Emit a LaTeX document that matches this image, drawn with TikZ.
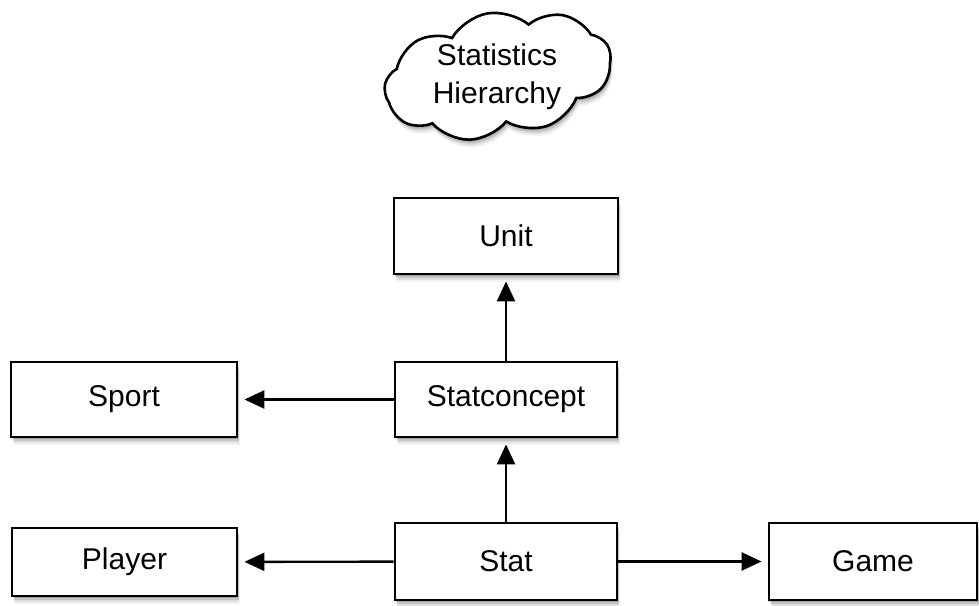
\documentclass[tikz,border=0pt]{standalone}
\usepackage{fontspec}
\setmainfont{Liberation Sans}
\usetikzlibrary{shapes.symbols,shadows,arrows.meta}
\begin{document}
\begin{tikzpicture}[x=1pt,y=-1pt,
  shad/.style={
    drop shadow={shadow xshift=1pt, shadow yshift=-2pt, fill=black, opacity=0.18},
    drop shadow={shadow xshift=1.5pt, shadow yshift=-4pt, fill=black, opacity=0.12},
    drop shadow={shadow xshift=2pt, shadow yshift=-6pt, fill=black, opacity=0.08},
    drop shadow={shadow xshift=2.5pt, shadow yshift=-8pt, fill=black, opacity=0.05}},
  box/.style={draw=black, line width=2.8pt, fill=white, rectangle, inner sep=0pt,
    font=\fontsize{30}{37}\selectfont, shad},
  conn/.style={line width=2.4pt, -{Triangle[length=20pt,width=18pt]}, shorten >=6pt},
  cloudbox/.style={cloud, cloud puffs=9, cloud puff arc=100, cloud ignores aspect,
    draw=black, line width=2.6pt, fill=white, inner sep=0pt, shad},
  lbl/.style={align=center, inner sep=0pt, font=\fontsize{30}{38}\selectfont}]
\useasboundingbox (0,0) rectangle (979,605);
\node[cloudbox, minimum width=229pt, minimum height=125pt, rotate=10] (cl) at (498,75) {};
\node[lbl] (cltext) at (497,77) {Statistics\\Hierarchy};
\node[box, minimum width=224pt, minimum height=76pt] (unit) at (506,236) {Unit};
\node[box, minimum width=222pt, minimum height=75pt] (sc) at (506,399.5) {Statconcept};
\node[box, minimum width=226pt, minimum height=75pt] (sport) at (124,399.5) {Sport};
\node[box, minimum width=222pt, minimum height=77pt] (stat) at (506,561.5) {Stat};
\node[box, minimum width=225pt, minimum height=68pt] (player) at (124.5,562) {Player};
\node[box, minimum width=208pt, minimum height=77pt] (game) at (873,561.5) {Game};
\draw[conn] (sc) -- (unit);
\draw[conn] (sc) -- (sport);
\draw[conn] (stat) -- (sc);
\draw[conn] (stat) -- (player);
\draw[conn] (stat) -- (game);
\end{tikzpicture}
\end{document}
